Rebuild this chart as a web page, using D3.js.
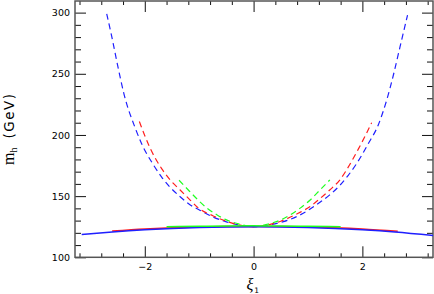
<!DOCTYPE html>
<html>
<head>
<meta charset="utf-8">
<script src="https://cdn.jsdelivr.net/npm/d3@7"></script>
<style>
  body { margin: 0; background: #fff; }
  svg { display: block; }
</style>
</head>
<body>
<svg id="chart" width="434" height="294"></svg>
<script>
// ---- data: x = xi_1, y = m_h (GeV) ----
var xiBlueDash = [-2.70, -2.61, -2.50, -2.38, -2.17, -2.06, -1.84, -1.69, -1.54, -1.35, -1.17, -0.99, -0.75, -0.50, -0.25, 0,
                  0.25, 0.55, 0.85, 1.04, 1.22, 1.40, 1.59, 1.74, 1.90, 2.11, 2.29, 2.45, 2.57, 2.66, 2.75, 2.83];
var mBlueDash  = [299, 281, 257, 233, 205, 193, 175.5, 165.5, 157.5, 149.5, 143, 138.5, 133, 129, 126.2, 125,
                  126.2, 129.2, 134.5, 139.5, 145, 151, 159, 167, 177, 193, 208, 229, 249, 266, 283, 298];

var xiRedDash = [-2.10, -1.90, -1.69, -1.51, -1.35, -1.17, -1.02, -0.75, -0.50, -0.25, 0,
                 0.25, 0.50, 0.82, 1.04, 1.22, 1.40, 1.59, 1.77, 1.92, 2.06, 2.17];
var mRedDash  = [211, 189, 172.5, 162, 155, 147, 140.5, 134, 129.5, 126.3, 125,
                 126.3, 129.5, 136, 141.5, 148, 155, 163.5, 176, 188, 200, 210];

var xiGreenDash = [-1.37, -1.17, -1.02, -0.85, -0.67, -0.52, -0.25, 0, 0.25, 0.52, 0.67, 0.85, 1.04, 1.22, 1.40];
var mGreenDash  = [163, 153.6, 146.8, 140, 134.6, 131, 127, 125, 127, 131, 134.6, 140, 146.8, 155, 163.2];

var xiBlueSolid = [-3.16, -2.6, -2.0, -1.5, -1.0, -0.5, 0, 0.5, 1.0, 1.5, 2.0, 2.6, 3.3];
var mBlueSolid  = [118.6, 120.7, 122.5, 123.6, 124.4, 124.8, 125, 124.8, 124.4, 123.6, 122.5, 120.7, 117.8];

var xiRedSolid = [-2.6, -2.0, -1.5, -1.0, -0.5, 0, 0.5, 1.0, 1.5, 2.0, 2.65];
var mRedSolid  = [121.5, 123.2, 124.2, 124.8, 125.1, 125.2, 125.1, 124.8, 124.2, 123.2, 121.2];

var xiGreenSolid = [-1.6, -1.0, -0.5, 0, 0.5, 1.0, 1.6];
var mGreenSolid  = [124.9, 125.4, 125.6, 125.7, 125.6, 125.4, 124.9];

var xTicks = [-2, 0, 2];
var yTicks = [100, 150, 200, 250, 300];

// ---- layout ----
var plotL = 75, plotR = 433, plotT = 1, plotB = 257.3;

var svg = d3.select('#chart');

var x = d3.scaleLinear().domain([-3.283, 3.298]).range([plotL, plotR]);
var y = d3.scaleLinear().domain([100, 309.5]).range([plotB, plotT]);

var xMinor = d3.range(-8, 9).filter(function(i){ return i % 5 !== 0; })
    .map(function(i){ return i * 0.4; });
var yMinor = d3.range(100, 310, 10).filter(function(v){ return v % 50 !== 0; });

svg.append('defs').append('clipPath').attr('id', 'plot')
    .append('rect')
    .attr('x', plotL).attr('y', plotT)
    .attr('width', plotR - plotL).attr('height', plotB - plotT);

// minor ticks (all four sides, pointing inward)
function minorAxis(axis, pos, size, vals) {
    svg.append('g')
        .attr('transform', pos)
        .call(axis.tickValues(vals).tickSize(size).tickSizeOuter(0).tickFormat(''))
        .call(function(g){ g.select('.domain').remove(); });
}
minorAxis(d3.axisBottom(x), 'translate(0,' + plotB + ')', -4, xMinor);
minorAxis(d3.axisTop(x), 'translate(0,' + plotT + ')', -4, xMinor);
minorAxis(d3.axisLeft(y), 'translate(' + plotL + ',0)', -6, yMinor);
minorAxis(d3.axisRight(y), 'translate(' + plotR + ',0)', -6, yMinor);

// major ticks + labels
svg.append('g')
    .attr('transform', 'translate(0,' + plotB + ')')
    .call(d3.axisBottom(x).tickValues(xTicks).tickSize(-11).tickSizeOuter(0).tickPadding(6)
        .tickFormat(function(d){ return d < 0 ? '\u2212' + Math.abs(d) : d; }));

svg.append('g')
    .attr('transform', 'translate(' + plotL + ',0)')
    .call(d3.axisLeft(y).tickValues(yTicks).tickSize(-11).tickSizeOuter(0).tickPadding(5));

svg.selectAll('.tick text')
    .attr('font-family', 'DejaVu Sans')
    .attr('font-size', '9.5px')
    .attr('fill', '#000');

svg.append('g')
    .attr('transform', 'translate(0,' + plotT + ')')
    .call(d3.axisTop(x).tickValues(xTicks).tickSize(-11).tickSizeOuter(0).tickFormat(''));
svg.append('g')
    .attr('transform', 'translate(' + plotR + ',0)')
    .call(d3.axisRight(y).tickValues(yTicks).tickSize(-11).tickSizeOuter(0).tickFormat(''));

svg.selectAll('.domain').remove();
svg.selectAll('.tick line').attr('stroke', '#111');

// frame
svg.append('rect')
    .attr('x', plotL).attr('y', plotT)
    .attr('width', plotR - plotL).attr('height', plotB - plotT)
    .attr('fill', 'none')
    .attr('stroke', '#555')
    .attr('stroke-width', 1.5);

// curves
var line = d3.line()
    .x(function(d){ return x(d[0]); })
    .y(function(d){ return y(d[1]); })
    .curve(d3.curveMonotoneX);

var curves = [
    { xs: xiBlueDash,  ms: mBlueDash,  color: '#1f1fff', dash: '6,4', w: 1.2 },
    { xs: xiRedDash,   ms: mRedDash,   color: '#ff1f1f', dash: '6,4', w: 1.2 },
    { xs: xiGreenDash, ms: mGreenDash, color: '#1fff1f', dash: '6,4', w: 1.2 },
    { xs: xiRedSolid,  ms: mRedSolid,  color: '#ff1f1f', dash: null, w: 1.5 },
    { xs: xiBlueSolid, ms: mBlueSolid, color: '#1f1fff', dash: null, w: 1.5 },
    { xs: xiGreenSolid, ms: mGreenSolid, color: '#1fff1f', dash: null, w: 1.5 }
];

svg.append('g').attr('clip-path', 'url(#plot)')
    .selectAll('path')
    .data(curves).enter()
    .append('path')
    .attr('d', function(c){ return line(d3.zip(c.xs, c.ms)); })
    .attr('fill', 'none')
    .attr('stroke', function(c){ return c.color; })
    .attr('stroke-width', function(c){ return c.w; })
    .attr('stroke-dasharray', function(c){ return c.dash; });

// axis titles
var xt = svg.append('text')
    .attr('x', 246.5).attr('y', 289.5)
    .attr('font-family', 'Liberation Serif')
    .attr('font-size', '16px');
xt.append('tspan').attr('font-style', 'italic').text('\u03BE');
xt.append('tspan').attr('font-family', 'DejaVu Sans').attr('font-size', '7.5px')
    .attr('dy', 3.8).attr('dx', 1).text('1');

var yt = svg.append('text')
    .attr('transform', 'translate(13.5,165) rotate(-90)');
yt.append('tspan').attr('font-family', 'Liberation Serif').attr('font-size', '16px').text('m');
yt.append('tspan').attr('font-family', 'Liberation Serif').attr('font-size', '10px').attr('dy', 3).text('h');
yt.append('tspan').attr('font-family', 'DejaVu Sans').attr('font-size', '13.5px')
    .attr('dy', -3).attr('dx', 9)
    .attr('letter-spacing', '1.5px').text('(GeV)');
</script>
</body>
</html>
